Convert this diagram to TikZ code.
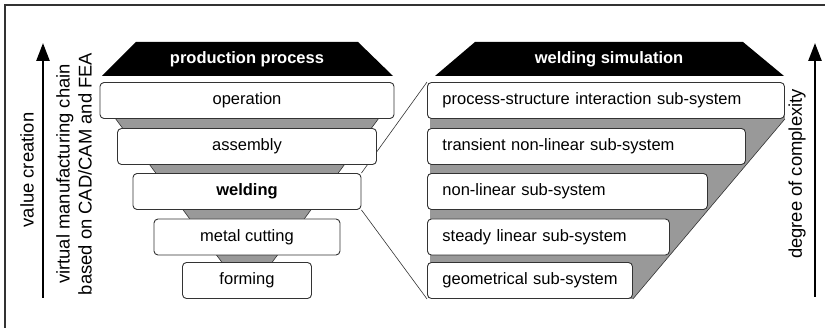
\documentclass[tikz,border=0pt]{standalone}
\usepackage{fontspec}
\setmainfont{Liberation Sans}
\usetikzlibrary{arrows.meta,positioning,calc,backgrounds}
\definecolor{ink}{HTML}{333333}
\definecolor{funnel}{HTML}{999999}
\tikzset{stage/.style={draw=ink,fill=white,line width=.9pt,rounded corners=4pt,minimum height=36pt,inner sep=0pt,font=\fontsize{16.5}{19}\selectfont},
header/.style={text=white,font=\fontsize{16.5}{19}\selectfont\bfseries},
side/.style={rotate=90,font=\fontsize{18.4}{22}\selectfont},
rise/.style={line width=2.6pt,-{Triangle[length=18pt,width=13pt]}}}

\begin{document}
\begin{tikzpicture}[x=1pt,y=-1pt]
\useasboundingbox (0,0) rectangle (825,328);
\draw[ink,line width=1.5pt] (5,328)--(5,5)--(825,5);
% headers
\fill (136,42)--(358,42)--(393,76)--(102,76)--cycle;
\node[header] (pp) at (247,59) {production process};
\fill (475,42)--(743,42)--(784,76)--(435,76)--cycle;
\node[header] (ws) at (609,59) {welding simulation};
% process chain
\foreach \n/\w/\y/\t in {op/294/100.5/operation,as/259/146.5/assembly,wel/228/191.5/{\textbf{welding}},mc/186/237/metal cutting,fo/129/280.5/forming}{\node[stage,minimum width=\w pt] (\n) at (247,\y) {\t};}
% simulation levels
\foreach \n/\w/\y/\t in {pss/357/100.5/process-structure interaction sub-system,tnl/318/146.5/transient non-linear sub-system,nl/280/191.5/non-linear sub-system,sl/242/237/steady linear sub-system,geo/205/280.5/geometrical sub-system}{\node[stage,anchor=west,minimum width=\w pt,text width=\w pt-30pt,align=left] (\n) at (427,\y) {\mbox{\t}};}
\begin{scope}[on background layer]
\filldraw[fill=funnel,draw=ink,line width=.6pt] (101.7,100)--(392.3,100)--(259,280)--(235,280)--cycle;
\fill[funnel] (430,100)--(784,100)--(pss.south east)--(geo.south east)--(430,297)--cycle;
\draw[ink,line width=.6pt] (pss.south east)--(geo.south east);
\draw[ink,line width=.6pt] (wel.north east)--(pss.north west);
\draw[ink,line width=.6pt] (wel.south east)--(geo.south west);
\end{scope}
% axes
\coordinate (vc0) at (43,298);\coordinate (vc1) at (43,43);
\coordinate (dc0) at (815,297);\coordinate (dc1) at (815,43);
\draw[rise] (vc0)--(vc1);\draw[rise] (dc0)--(dc1);
\node[side] (vc) at (27,170) {value creation};
\node[side,align=center] (vmc) at (74,174) {virtual manufacturing chain\\based on CAD/CAM and FEA};
\node[side] (doc) at (797,174) {degree of complexity};
\end{tikzpicture}
\end{document}
